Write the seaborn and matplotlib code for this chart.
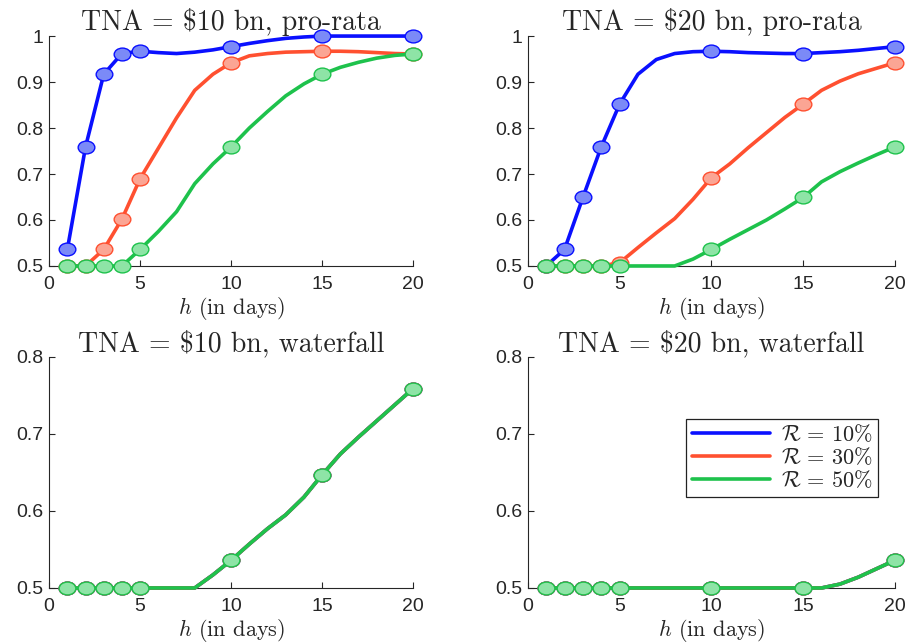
import numpy as np
import pandas as pd
import matplotlib
matplotlib.use("Agg")
import matplotlib.pyplot as plt
import seaborn as sns
from matplotlib.path import Path
from matplotlib.transforms import Affine2D
from matplotlib.lines import Line2D

# ---------------- data ----------------
days = list(range(1, 21))
marker_days = [1, 2, 3, 4, 5, 10, 15, 20]
rates = ["10%", "30%", "50%"]

tl_r10 = [0.536, 0.759, 0.917, 0.962, 0.967, 0.964, 0.962, 0.965, 0.970, 0.977,
          0.984, 0.990, 0.995, 0.998, 1.000, 1.000, 1.000, 1.000, 1.000, 1.000]
tl_r30 = [0.500, 0.500, 0.536, 0.602, 0.690, 0.756, 0.822, 0.882, 0.917, 0.942,
          0.957, 0.962, 0.965, 0.966, 0.967, 0.967, 0.966, 0.964, 0.962, 0.961]
tl_r50 = [0.500, 0.500, 0.500, 0.500, 0.536, 0.575, 0.618, 0.679, 0.722, 0.759,
          0.800, 0.836, 0.870, 0.896, 0.917, 0.932, 0.943, 0.952, 0.958, 0.961]

tr_r10 = [0.500, 0.536, 0.649, 0.759, 0.852, 0.917, 0.949, 0.962, 0.966, 0.967,
          0.966, 0.964, 0.963, 0.962, 0.962, 0.964, 0.966, 0.969, 0.973, 0.977]
tr_r30 = [0.500, 0.500, 0.500, 0.500, 0.507, 0.540, 0.572, 0.603, 0.645, 0.692,
          0.722, 0.757, 0.790, 0.823, 0.852, 0.882, 0.902, 0.918, 0.930, 0.942]
tr_r50 = [0.500, 0.500, 0.500, 0.500, 0.500, 0.500, 0.500, 0.500, 0.515, 0.536,
          0.558, 0.579, 0.600, 0.624, 0.649, 0.683, 0.705, 0.724, 0.742, 0.759]

bl_all = [0.500, 0.500, 0.500, 0.500, 0.500, 0.500, 0.500, 0.500, 0.517, 0.536,
          0.557, 0.577, 0.595, 0.618, 0.647, 0.674, 0.696, 0.717, 0.738, 0.759]
br_all = [0.500, 0.500, 0.500, 0.500, 0.500, 0.500, 0.500, 0.500, 0.500, 0.500,
          0.500, 0.500, 0.500, 0.500, 0.500, 0.500, 0.505, 0.514, 0.525, 0.536]

panel_titles = ["TNA = $10 bn, pro-rata", "TNA = $20 bn, pro-rata",
                "TNA = $10 bn, waterfall", "TNA = $20 bn, waterfall"]
panel_series = [
    [tl_r10, tl_r30, tl_r50],
    [tr_r10, tr_r30, tr_r50],
    [bl_all, bl_all, bl_all],
    [br_all, br_all, br_all],
]
yticks_top = [0.5, 0.6, 0.7, 0.8, 0.9, 1.0]
yticklabels_top = ["0.5", "0.6", "0.7", "0.8", "0.9", "1"]
yticks_bot = [0.5, 0.6, 0.7, 0.8]
yticklabels_bot = ["0.5", "0.6", "0.7", "0.8"]
xticks = [0, 5, 10, 15, 20]

rows = []
for p, series in enumerate(panel_series):
    for r, vals in zip(rates, series):
        for d, v in zip(days, vals):
            rows.append({"panel": p, "rate": r, "h": d, "value": v})
df = pd.DataFrame(rows)

# ---------------- style ----------------
sns.set_style("ticks")
plt.rcParams["font.family"] = ["Liberation Sans", "DejaVu Sans"]
plt.rcParams["mathtext.fontset"] = "cm"

line_colors = ["#0a10ff", "#ff5030", "#1ec24c"]
fill_colors = ["#7b8af7", "#fba594", "#8ee4a6"]
ellipse = Path.unit_circle().transformed(Affine2D().scale(1.3, 1.0))
mark_idx = [days.index(d) for d in marker_days]

fig = plt.figure(figsize=(9.1, 6.44), dpi=100)
positions = [
    [0.054, 0.587, 0.400, 0.357],
    [0.580, 0.587, 0.4035, 0.357],
    [0.054, 0.087, 0.400, 0.3587],
    [0.580, 0.087, 0.4035, 0.3587],
]

axes = []
for p in range(4):
    ax = fig.add_axes(positions[p])
    axes.append(ax)
    for i, r in enumerate(rates):
        sub = df[(df["panel"] == p) & (df["rate"] == r)]
        sns.lineplot(data=sub, x="h", y="value", ax=ax, color=line_colors[i],
                     lw=2.6, marker=ellipse, markevery=mark_idx, markersize=12,
                     markerfacecolor=fill_colors[i], markeredgecolor=line_colors[i],
                     markeredgewidth=1.0, zorder=3 + i, clip_on=False,
                     legend=False, errorbar=None)
    ax.set_xlim(0, 20)
    ax.set_xticks(xticks)
    if p < 2:
        ax.set_ylim(0.5, 1.0)
        ax.set_yticks(yticks_top, yticklabels_top)
    else:
        ax.set_ylim(0.5, 0.8)
        ax.set_yticks(yticks_bot, yticklabels_bot)
    ax.tick_params(direction="in", length=4, width=0.8, labelsize=14,
                   colors="#262626")
    ax.tick_params(axis="x", pad=7)
    ax.tick_params(axis="y", pad=4)
    for s in ["top", "right"]:
        ax.spines[s].set_visible(False)
    for s in ["left", "bottom"]:
        ax.spines[s].set_color("#262626")
        ax.spines[s].set_linewidth(0.8)
    ax.set_title(panel_titles[p], fontfamily="cmr10", fontsize=20, pad=4)
    ax.set_xlabel(r"$h$ (in days)", fontfamily="cmr10", fontsize=16, labelpad=2)
    ax.set_ylabel("")

handles = [Line2D([], [], color=c, lw=2.6) for c in line_colors]
labels = [r"$\mathcal{R}\,=\,10\%$", r"$\mathcal{R}\,=\,30\%$", r"$\mathcal{R}\,=\,50\%$"]
leg = axes[3].legend(handles, labels, loc="upper right", bbox_to_anchor=(0.954, 0.732),
                     borderaxespad=0, fontsize=16, handlelength=3.5, labelspacing=0.05,
                     handletextpad=0.5, borderpad=0.25, fancybox=False, framealpha=1,
                     edgecolor="#222222")
leg.get_frame().set_linewidth(0.9)

fig.savefig("out.png", dpi=100)
